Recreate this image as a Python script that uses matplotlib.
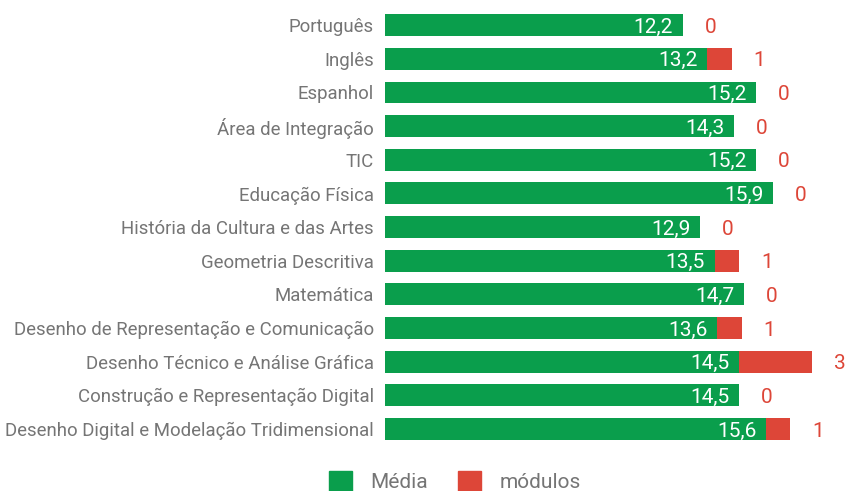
import numpy as np
import matplotlib.pyplot as plt
from matplotlib.patches import Patch

plt.rcParams['font.family'] = ['Roboto', 'DejaVu Sans']

# Disciplinas, médias e número de módulos em atraso
disciplinas = [
    'Português', 'Inglês', 'Espanhol', 'Área de Integração', 'TIC',
    'Educação Física', 'História da Cultura e das Artes',
    'Geometria Descritiva', 'Matemática',
    'Desenho de Representação e Comunicação',
    'Desenho Técnico e Análise Gráfica',
    'Construção e Representação Digital',
    'Desenho Digital e Modelação Tridimensional',
]
media = [12.2, 13.2, 15.2, 14.3, 15.2, 15.9, 12.9, 13.5, 14.7, 13.6, 14.5, 14.5, 15.6]
modulos = [0, 1, 0, 0, 0, 0, 0, 1, 0, 1, 3, 0, 1]

verde = '#0a9e4c'
vermelho = '#dd4638'
cinza = '#757575'

fig = plt.figure(figsize=(8.49, 4.91), dpi=100)
ax = fig.add_axes([385 / 849, 0.092, 464 / 849, 0.891])

y = np.arange(len(disciplinas))
ax.barh(y, media, height=0.65, color=verde)
ax.barh(y, modulos, left=media, height=0.65, color=vermelho)

for yi, m, n in zip(y, media, modulos):
    ax.text(m - 0.4, yi + 0.06, f'{m:.1f}'.replace('.', ','), color='white',
            ha='right', va='center', fontsize=15)
    ax.text(m + n + 0.9, yi + 0.06, str(n), color=vermelho,
            ha='left', va='center', fontsize=15)

ax.set_yticks(y)
ax.set_yticklabels(disciplinas, fontsize=13.4, color=cinza)
ax.tick_params(axis='y', length=0, pad=8)
ax.set_ylim(len(disciplinas) - 0.5, -0.5)
ax.set_xlim(0, 19)
ax.set_xticks([])
for s in ax.spines.values():
    s.set_visible(False)

handles = [Patch(color=verde, label='Média'), Patch(color=vermelho, label='módulos')]
fig.legend(handles=handles, loc='center', bbox_to_anchor=(0.536, 0.02), ncol=2,
           frameon=False, labelcolor=cinza, handlelength=1.1,
           handleheight=1.1, columnspacing=1.45, handletextpad=0.9,
           prop={'size': 15})

fig.savefig('out.png', dpi=100)
